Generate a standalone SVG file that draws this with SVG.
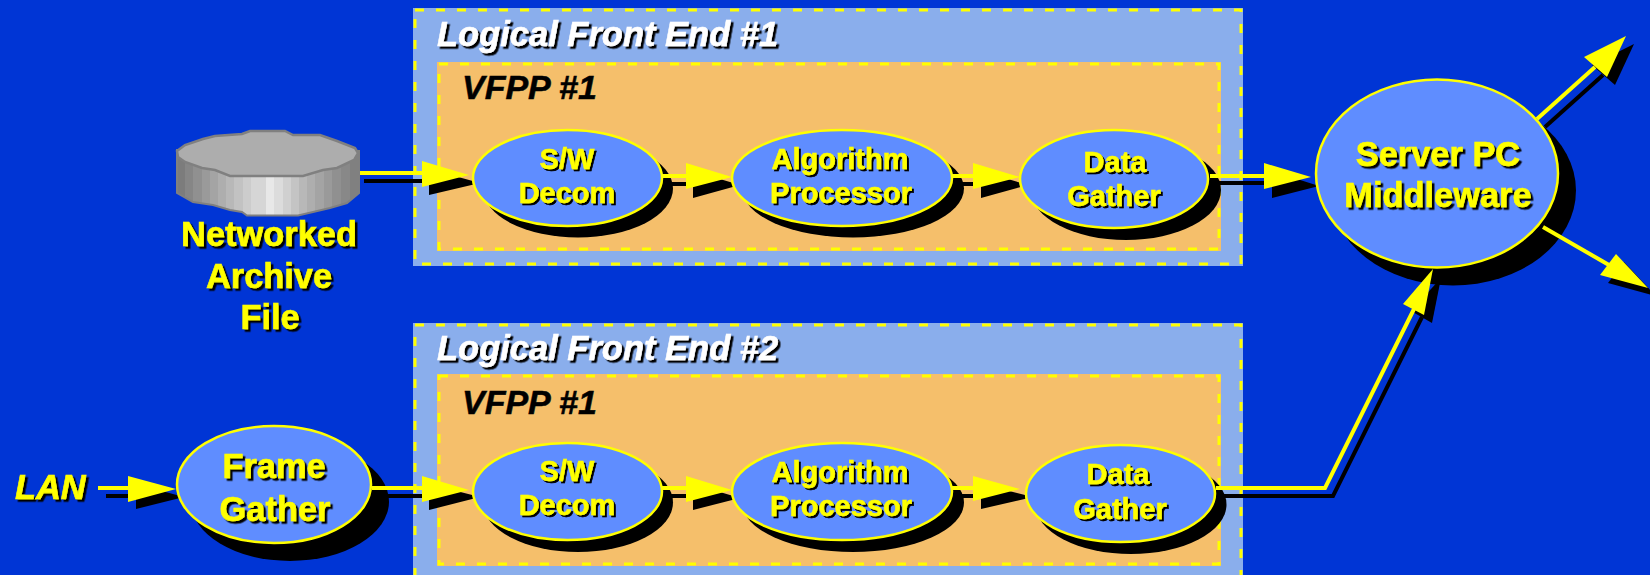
<svg xmlns="http://www.w3.org/2000/svg" width="1650" height="575" viewBox="0 0 1650 575">
<style>
.outer{fill:#8aaeec;stroke:none}
.inner{fill:#f5bf6b;stroke:none}
.dash{fill:none;stroke:#ffff00;stroke-width:3;stroke-dasharray:9 12}
.node{fill:#5f8dff;stroke:#ffff00;stroke-width:2.5}
.shadow{fill:#000}
.ln{fill:none;stroke:#ffff00;stroke-width:4}
.sl{fill:none;stroke:#000;stroke-width:4}
.hd{fill:#ffff00}
text{font-family:"Liberation Sans",Arial,sans-serif;font-weight:bold;text-anchor:middle}
.y29{font-size:29px;fill:#ffff00;stroke:#ffff00;stroke-width:.5;filter:url(#ts2)}
.y34{font-size:34.4px;fill:#ffff00;stroke:#ffff00;stroke-width:.6;filter:url(#ts3)}
.title{font-size:34.5px;font-style:italic;fill:#fff;stroke:#fff;stroke-width:.5;text-anchor:start;filter:url(#ts3)}
.vf{font-size:34px;font-style:italic;fill:#000;stroke:#000;stroke-width:.5;text-anchor:start}
.lan{font-size:34.4px;font-style:italic;fill:#ffff00;stroke:#ffff00;stroke-width:.6;text-anchor:start;filter:url(#ts3)}
</style>
<defs>
<filter id="ts2" x="-10%" y="-10%" width="120%" height="130%"><feDropShadow dx="2" dy="2" stdDeviation="0" flood-color="#000"/></filter>
<filter id="ts3" x="-10%" y="-10%" width="120%" height="130%"><feDropShadow dx="2.5" dy="2.5" stdDeviation="0" flood-color="#000"/></filter>
<linearGradient id="disk" x1="0" x2="1" y1="0" y2="0">
<stop offset="0" stop-color="#7c7c7c"/><stop offset=".045" stop-color="#7c7c7c"/><stop offset=".045" stop-color="#868686"/><stop offset=".09" stop-color="#868686"/><stop offset=".09" stop-color="#909090"/><stop offset=".135" stop-color="#909090"/><stop offset=".135" stop-color="#9a9a9a"/><stop offset=".18" stop-color="#9a9a9a"/><stop offset=".18" stop-color="#a4a4a4"/><stop offset=".225" stop-color="#a4a4a4"/><stop offset=".225" stop-color="#aeaeae"/><stop offset=".27" stop-color="#aeaeae"/><stop offset=".27" stop-color="#b8b8b8"/><stop offset=".315" stop-color="#b8b8b8"/><stop offset=".315" stop-color="#c2c2c2"/><stop offset=".36" stop-color="#c2c2c2"/><stop offset=".36" stop-color="#cccccc"/><stop offset=".405" stop-color="#cccccc"/><stop offset=".405" stop-color="#d6d6d6"/><stop offset=".49" stop-color="#d6d6d6"/><stop offset=".49" stop-color="#e8e8e8"/><stop offset=".535" stop-color="#e8e8e8"/><stop offset=".535" stop-color="#dcdcdc"/><stop offset=".58" stop-color="#dcdcdc"/><stop offset=".58" stop-color="#d0d0d0"/><stop offset=".625" stop-color="#d0d0d0"/><stop offset=".625" stop-color="#c4c4c4"/><stop offset=".67" stop-color="#c4c4c4"/><stop offset=".67" stop-color="#b8b8b8"/><stop offset=".715" stop-color="#b8b8b8"/><stop offset=".715" stop-color="#aeaeae"/><stop offset=".76" stop-color="#aeaeae"/><stop offset=".76" stop-color="#a4a4a4"/><stop offset=".805" stop-color="#a4a4a4"/><stop offset=".805" stop-color="#9a9a9a"/><stop offset=".85" stop-color="#9a9a9a"/><stop offset=".85" stop-color="#909090"/><stop offset=".9" stop-color="#909090"/><stop offset=".9" stop-color="#888888"/><stop offset=".95" stop-color="#888888"/><stop offset=".95" stop-color="#808080"/><stop offset="1" stop-color="#808080"/>
</linearGradient>
</defs>
<rect width="1650" height="575" fill="#0035d5"/>
<g id="front-end-1">
<rect class="outer" x="413" y="8" width="830" height="258"/>
<rect class="dash" x="415" y="10" width="826" height="254"/>
<text class="title" x="437" y="46">Logical Front End #1</text>
<rect class="inner" x="437" y="62" width="784" height="189"/>
<rect class="dash" x="439" y="64" width="780" height="185"/>
<text class="vf" x="462" y="99">VFPP #1</text>
</g>
<g id="front-end-2">
<rect class="outer" x="413" y="323" width="830" height="270"/>
<rect class="dash" x="415" y="325" width="826" height="266"/>
<text class="title" x="437" y="360">Logical Front End #2</text>
<rect class="inner" x="437" y="374" width="784" height="192"/>
<rect class="dash" x="439" y="376" width="780" height="188"/>
<text class="vf" x="462" y="414">VFPP #1</text>
</g>
<g id="node-shadows">
<ellipse class="shadow" cx="578" cy="188.5" rx="95" ry="49"/>
<ellipse class="shadow" cx="853" cy="188.5" rx="111" ry="49"/>
<ellipse class="shadow" cx="1126" cy="190" rx="95" ry="50"/>
<ellipse class="shadow" cx="1453" cy="190.5" rx="123" ry="95"/>
<ellipse class="shadow" cx="290" cy="501.5" rx="99" ry="59.5"/>
<ellipse class="shadow" cx="578" cy="502.5" rx="95" ry="49.5"/>
<ellipse class="shadow" cx="853" cy="502.5" rx="111" ry="49.5"/>
<ellipse class="shadow" cx="1131" cy="504.5" rx="95.5" ry="49.5"/>
</g>
<g id="connectors">
<path class="sl" d="M364 181H435"/><path class="shadow" d="M429 169L480 183L429 195Z"/>
<path class="sl" d="M660 184H700"/><path class="shadow" d="M693 171L740 185L693 198Z"/>
<path class="sl" d="M940 184H985"/><path class="shadow" d="M981 171L1028 185L981 198Z"/>
<path class="sl" d="M1210 183H1278"/><path class="shadow" d="M1272 171L1319 186L1272 198Z"/>
<path class="sl" d="M106 496H140"/><path class="shadow" d="M136 484L184 497L136 509Z"/>
<path class="sl" d="M380 496H435"/><path class="shadow" d="M429 484L480 497L429 510Z"/>
<path class="sl" d="M660 496H700"/><path class="shadow" d="M693 484L740 498L693 510Z"/>
<path class="sl" d="M940 496H985"/><path class="shadow" d="M981 484L1033 497L981 509Z"/>
<path class="sl" d="M1216 496H1333L1422 317"/><path class="shadow" d="M1411 311L1441 278L1432 323Z"/>
<path class="sl" d="M1545 127L1603 75"/><path class="shadow" d="M1592 65L1634 44L1615 85Z"/>
<path class="shadow" d="M1624 262L1656 296L1608 283Z"/>
<path class="ln" d="M357 173H424"/><path class="hd" d="M422 161L469 175L422 187Z"/>
<path class="ln" d="M662 176H688"/><path class="hd" d="M686 163L732 177L686 189Z"/>
<path class="ln" d="M945 176H975"/><path class="hd" d="M973 163L1020 177L973 189Z"/>
<path class="ln" d="M1210 176H1266"/><path class="hd" d="M1264 163L1311 177L1264 189Z"/>
<path class="ln" d="M98 488H130"/><path class="hd" d="M128 476L176 489L128 502Z"/>
<path class="ln" d="M372 488H424"/><path class="hd" d="M422 476L469 490L422 502Z"/>
<path class="ln" d="M662 488H688"/><path class="hd" d="M686 476L732 490L686 502Z"/>
<path class="ln" d="M945 488H975"/><path class="hd" d="M973 476L1020 489L973 501Z"/>
<path class="ln" d="M1216 488H1325L1414 309"/><path class="hd" d="M1403 304L1433 269L1424 315Z"/>
<path class="ln" d="M1537 119L1595 67"/><path class="hd" d="M1584 57L1626 36L1607 77Z"/>
<path class="ln" d="M1543 227L1609 265" stroke-width="5"/><path class="hd" d="M1616 254L1648 288L1600 275Z"/>
</g>
<g id="archive">
<path fill="url(#disk)" stroke="#808080" stroke-width="2" d="M177 150V193L193 202L213 205L230 210L242 212L247 215.500H298L313 212L330 208L347 203L359 193V151Z"/>
<path fill="#adadad" stroke="#808080" stroke-width="2.500" d="M177 151L185 145L203 139L215 136L242 134L250 131H285L293 135L320 135L337 141L355 148L358 153L354 160L337 168L323 170L303 176H230L215 170L202 168L185 162L178 157Z"/>
<text class="y34" x="269" y="246">Networked</text>
<text class="y34" x="269" y="288">Archive</text>
<text class="y34" x="270" y="329">File</text>
</g>
<g id="sw-decom-1"><ellipse class="node" cx="567.500" cy="178" rx="94.500" ry="48"/><text class="y29" x="567" y="169">S/W</text><text class="y29" x="567" y="203">Decom</text></g>
<g id="algorithm-1"><ellipse class="node" cx="842" cy="178" rx="110" ry="48"/><text class="y29" x="840" y="169">Algorithm</text><text class="y29" x="841" y="203">Processor</text></g>
<g id="data-gather-1"><ellipse class="node" cx="1114" cy="179" rx="94" ry="49"/><text class="y29" x="1115" y="172">Data</text><text class="y29" x="1114" y="206">Gather</text></g>
<g id="server"><ellipse class="node" cx="1437" cy="173.500" rx="121" ry="94"/><text class="y34" x="1438" y="166">Server PC</text><text class="y34" x="1438" y="207">Middleware</text></g>
<g id="frame-gather"><ellipse class="node" cx="274" cy="484.500" rx="97" ry="58.500"/><text class="y34" x="274" y="478">Frame</text><text class="y34" x="275" y="521">Gather</text></g>
<g id="sw-decom-2"><ellipse class="node" cx="567.500" cy="491.500" rx="94.500" ry="48.500"/><text class="y29" x="567" y="481">S/W</text><text class="y29" x="567" y="515">Decom</text></g>
<g id="algorithm-2"><ellipse class="node" cx="842" cy="491.500" rx="110" ry="48.500"/><text class="y29" x="840" y="481.500">Algorithm</text><text class="y29" x="841" y="516">Processor</text></g>
<g id="data-gather-2"><ellipse class="node" cx="1120.500" cy="493.500" rx="94.500" ry="48.500"/><text class="y29" x="1118" y="484">Data</text><text class="y29" x="1120" y="519">Gather</text></g>
<g id="lan"><text class="lan" x="15" y="499">LAN</text></g>
</svg>
